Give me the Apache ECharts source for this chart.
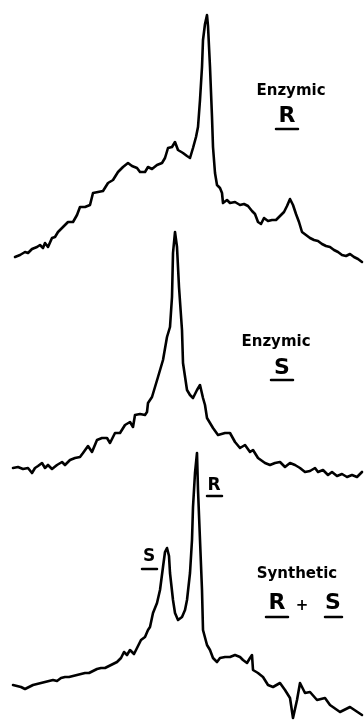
<!DOCTYPE html>
<html>
<head>
<meta charset="utf-8">
<script src="https://cdn.jsdelivr.net/npm/echarts@6/dist/echarts.min.js"></script>
<style>
  html, body { margin: 0; padding: 0; background: #fff; }
  #chart { width: 364px; height: 720px; }
</style>
</head>
<body>
<div id="chart"></div>
<script>
// Enzymic R trace: abscissa (arbitrary shift units) and intensity above baseline
var shiftR = [15,20,25,28,32,37,40,43,45,48,52,55,58,63,68,73,77,80,85,90,93,98,103,108,113,118,123,128,132,137,140,145,148,152,157,162,165,168,172,175,178,183,187,190,193,196,198,200,202,203,205,207,208,210,212,213,215,217,220,222,223,227,230,235,240,244,248,252,255,258,261,264,268,272,276,280,284,287,290,293,296,299,302,306,310,314,318,322,326,330,334,338,342,346,350,354,358,362];
var intensityR = [8,10,13,12,16,18,20,17,22,18,27,28,33,38,43,43,50,58,58,60,72,73,74,82,85,93,98,102,99,97,93,93,98,96,100,102,107,117,118,123,115,112,109,107,117,128,138,165,198,225,241,250,239,198,148,118,92,80,77,72,62,65,62,63,60,61,59,54,51,43,41,47,44,45,45,49,53,59,66,60,51,43,33,30,27,25,24,21,19,18,15,13,10,9,11,8,6,3];

// Enzymic S trace
var shiftS = [13,18,23,28,32,35,38,42,45,48,52,57,62,65,70,75,80,83,88,92,97,102,107,110,115,120,125,130,133,135,140,145,147,148,152,155,158,163,167,170,172,173,175,177,179,182,183,187,190,193,197,200,203,205,207,213,218,225,230,235,240,245,250,253,258,265,270,275,280,285,290,295,300,305,310,315,318,323,328,332,337,342,347,352,357,362];
var intensityS = [12,13,11,12,7,12,14,17,12,15,11,15,18,15,20,22,23,27,34,28,40,42,42,37,47,47,55,58,53,65,66,65,68,77,83,93,103,120,143,153,183,227,248,233,193,150,117,90,85,82,90,95,82,75,62,52,45,47,47,38,32,35,28,30,22,17,15,17,18,13,17,15,12,8,9,12,8,10,5,8,4,6,3,5,3,8];

// Synthetic R + S trace
var shiftRS = [13,17,21,25,29,33,37,41,45,49,53,57,61,65,69,73,77,81,85,89,93,97,101,105,109,113,117,121,124,127,130,134,137,141,145,148,150,153,157,160,163,165,167,169,170,173,175,178,182,185,187,190,192,193,195,197,198,200,202,203,207,210,213,217,220,225,230,235,240,243,247,250,252,253,258,263,268,273,280,285,290,293,297,300,305,310,317,325,330,340,350,362];
var intensityRS = [35,34,33,31,33,35,36,37,38,39,40,39,42,43,43,44,45,46,47,47,49,51,52,52,54,56,58,62,68,65,70,66,72,80,83,90,93,107,117,130,153,168,172,164,147,120,107,100,103,110,120,147,180,213,247,267,230,180,130,90,75,70,62,58,62,63,63,65,63,60,57,62,65,50,47,43,35,33,37,30,22,2,20,37,27,28,20,22,15,8,13,5];

var sampleNames = ['Enzymic', 'Enzymic', 'Synthetic'];
var sampleTags = ['R', 'S', ['R', '+', 'S']];
var peakTags = ['S', 'R'];

function pairs(xs, ys) {
  var out = [];
  for (var i = 0; i < xs.length; i++) {
    out.push([xs[i], ys[i]]);
  }
  return out;
}

var traces = [pairs(shiftR, intensityR), pairs(shiftS, intensityS), pairs(shiftRS, intensityRS)];
var gridTops = [0, 215, 450];
var gridHeights = [265, 265, 270];

var grids = [], xAxes = [], yAxes = [], series = [];
for (var i = 0; i < traces.length; i++) {
  grids.push({ left: 0, width: 364, top: gridTops[i], height: gridHeights[i] });
  xAxes.push({ type: 'value', gridIndex: i, min: 0, max: 364, show: false });
  yAxes.push({ type: 'value', gridIndex: i, min: 0, max: gridHeights[i], show: false });
  series.push({
    type: 'line',
    xAxisIndex: i,
    yAxisIndex: i,
    data: traces[i],
    showSymbol: false,
    smooth: false,
    silent: true,
    lineStyle: { color: '#000', width: 2.6, join: 'round', cap: 'round' }
  });
}

var font = '"DejaVu Sans", sans-serif';
function txt(s, x, y, size) {
  return {
    type: 'text', x: x, y: y,
    style: { text: s, fontFamily: font, fontWeight: 'bold', fontSize: size, fill: '#000', textAlign: 'center', textVerticalAlign: 'middle' }
  };
}
function uline(x1, x2, y) {
  return { type: 'line', shape: { x1: x1, y1: y, x2: x2, y2: y }, style: { stroke: '#000', lineWidth: 2.5, lineCap: 'round' } };
}

var graphics = [
  txt(sampleNames[0], 291, 91, 15),
  txt(sampleTags[0], 287, 116, 22),
  uline(276, 298, 129),
  txt(sampleNames[1], 276, 342, 15),
  txt(sampleTags[1], 282, 368, 22),
  uline(271, 293, 380),
  txt(sampleNames[2], 297, 574, 15),
  txt(sampleTags[2][0], 277, 603, 22),
  txt(sampleTags[2][1], 302, 606, 15),
  txt(sampleTags[2][2], 333, 603, 22),
  uline(266, 288, 617),
  uline(325, 342, 617),
  txt(peakTags[0], 149, 557, 17),
  uline(142, 157, 569),
  txt(peakTags[1], 214, 486, 17),
  uline(207, 222, 496)
];

var chart = echarts.init(document.getElementById('chart'));
chart.setOption({
  backgroundColor: '#fff',
  animation: false,
  grid: grids,
  xAxis: xAxes,
  yAxis: yAxes,
  series: series,
  graphic: graphics
});
</script>
</body>
</html>
